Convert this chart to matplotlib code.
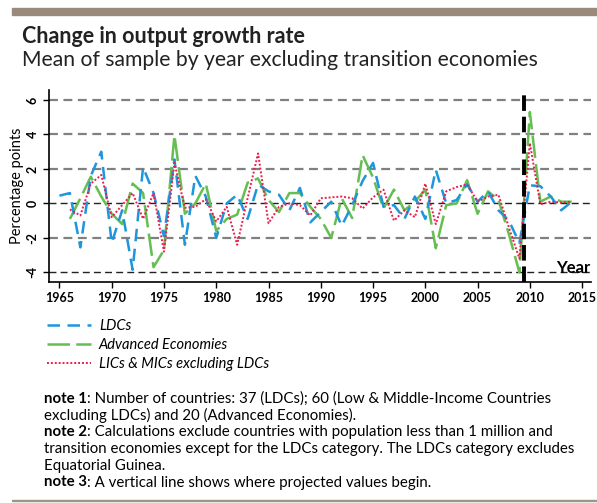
import numpy as np
import matplotlib
matplotlib.use("Agg")
import matplotlib.pyplot as plt
from matplotlib.lines import Line2D
from matplotlib.patches import Rectangle

plt.rcParams['font.family'] = ['Lato', 'DejaVu Sans']

# Daten (Änderung der Wachstumsrate, Prozentpunkte)
years_ldc = list(range(1965, 2015))
ldc = [0.45, 0.6, -2.55, 1.6, 3.0, -2.3, -0.4, -3.85, 2.1, 0.6,
       -1.9, 2.55, -2.4, 1.6, 0.4, -2.0, 0.0, 0.5, -0.9, 1.1,
       0.7, 0.5, -0.4, 0.9, -1.1, -0.5, 0.1, -1.3, -0.1, 1.3,
       2.35, -0.2, -0.1, -0.9, 0.4, -0.9, 1.95, 0.0, 0.2, 1.1,
       0.1, 0.7, -0.4, -1.0, -2.3, 1.05, 1.0, 0.4, -0.4, 0.1]

years_oth = list(range(1966, 2015))
adv = [-0.9, 0.3, 1.55, 0.4, -0.6, -1.2, 1.15, 0.6, -3.7,
       -2.7, 3.95, -0.6, 0.0, 1.15, -1.6, -0.9, -0.65, 1.2, 1.45,
       0.2, -0.5, 0.6, 0.6, -0.2, -0.9, -2.0, 0.3, -0.85, 2.8,
       1.5, -0.3, 0.8, -0.4, 0.1, 0.8, -2.6, -0.1, 0.0, 1.35,
       -0.6, 0.7, 0.2, -1.8, -4.0, 5.3, 0.1, 0.4, 0.1, 0.1]
lmic = [-0.35, -0.7, 1.15, 1.65, -0.8, -0.1, 0.6, -0.9, 0.6,
        -2.8, 2.35, -0.25, -0.2, 0.25, -1.05, -0.2, -2.4, 0.3, 2.9,
        -1.15, -0.2, 0.0, -0.1, -0.7, 0.3, 0.35, 0.4, 0.3, -0.3,
        0.35, 0.8, -1.0, -0.4, -0.8, 1.15, -1.2, 0.7, 0.95, 1.1,
        0.1, 0.4, 0.5, -1.4, -3.2, 3.5, -0.05, 0.1, 0.05, 0.1]

x_ticks = list(range(1965, 2016, 5))
y_ticks = [-4, -2, 0, 2, 4, 6]
proj_start = 2009.4

blue = '#1e96dc'
green = '#64be50'
red = '#eb1e50'

fig = plt.figure(figsize=(5.97, 5.03), dpi=100)

# Rahmen oben / unten
fig.patches.append(Rectangle((12 / 597, 488 / 503), 1, 7 / 503,
                             transform=fig.transFigure, color='#998a7c', zorder=0))
fig.patches.append(Rectangle((12 / 597, 2 / 503), 1, 1.5 / 503,
                             transform=fig.transFigure, color='#a09484', zorder=0))

fig.text(22 / 597, 1 - 43 / 503, 'Change in output growth rate',
         fontsize=15.5, fontweight='bold', color='#222222')
fig.text(22 / 597, 1 - 66 / 503, 'Mean of sample by year excluding transition economies',
         fontsize=15.2, color='#222222')

ax = fig.add_axes([49 / 597, 221 / 503, 542 / 597, 192 / 503])

# Gitterlinien
for yv in y_ticks:
    if yv in (0, -4):
        ax.axhline(yv, color='#222222', lw=1.0, ls=(0, (5, 3)), zorder=1)
    else:
        ax.axhline(yv, color='#808080', lw=1.6, ls=(0, (4, 2.5)), zorder=1)

ax.plot(years_ldc, ldc, color=blue, lw=1.8, ls=(0, (5, 3)), zorder=3)
ax.plot(years_oth, adv, color=green, lw=1.8, ls=(0, (9, 2.5)), zorder=2)
ax.plot(years_oth, lmic, color=red, lw=1.4, ls=(0, (1, 1)), zorder=4)

ax.axvline(proj_start, color='black', lw=2.8, ls=(0, (4, 1.5)), zorder=5)

ax.set_xlim(1964.0, 2015.85)
ax.set_ylim(-4.56, 6.58)
ax.set_xticks(x_ticks)
ax.set_yticks(y_ticks)
ax.set_xticklabels([str(v) for v in x_ticks], fontsize=9, fontweight='bold')
ax.set_yticklabels([str(v) for v in y_ticks], fontsize=9, fontweight='bold',
                   rotation=90, va='center')
ax.tick_params(length=4, width=1, color='black')
for s in ['top', 'right']:
    ax.spines[s].set_visible(False)
for s in ['left', 'bottom']:
    ax.spines[s].set_linewidth(1.2)
ax.set_ylabel('Percentage points', fontsize=10.5, labelpad=2)
ax.text(2015.8, -3.72, 'Year', fontsize=12, fontweight='bold', ha='right', va='center',
        zorder=6)

# Legende
handles = [Line2D([], [], color=blue, lw=1.8, ls=(0, (5, 3))),
           Line2D([], [], color=green, lw=1.8, ls=(0, (9, 2.5))),
           Line2D([], [], color=red, lw=1.4, ls=(0, (1, 1)))]
labels = ['LDCs', 'Advanced Economies', 'LICs & MICs excluding LDCs']
fig.legend(handles, labels, loc='upper left', bbox_to_anchor=(34 / 597, 1 - 306 / 503),
           frameon=False, prop={'style': 'italic', 'size': 10.5},
           handlelength=3.0, handletextpad=0.55, labelspacing=0.35)

# Anmerkungen
notes = [('note 1', ': Number of countries: 37 (LDCs); 60 (Low & Middle-Income Countries'),
         (None, 'excluding LDCs) and 20 (Advanced Economies).'),
         ('note 2', ': Calculations exclude countries with population less than 1 million and'),
         (None, 'transition economies except for the LDCs category. The LDCs category excludes'),
         (None, 'Equatorial Guinea.'),
         ('note 3', ': A vertical line shows where projected values begin.')]
y0 = 1 - 406 / 503
dy = 16.7 / 503
for i, (bold, rest) in enumerate(notes):
    yy = y0 - i * dy
    if bold:
        t = fig.text(44 / 597, yy, bold, fontsize=10.8, fontweight='bold', va='bottom')
        ax.annotate(rest, xy=(1, 0), xycoords=t, fontsize=10.8, va='bottom',
                    annotation_clip=False)
    else:
        fig.text(44 / 597, yy, rest, fontsize=10.8, va='bottom')

fig.savefig('out.png', dpi=100)
